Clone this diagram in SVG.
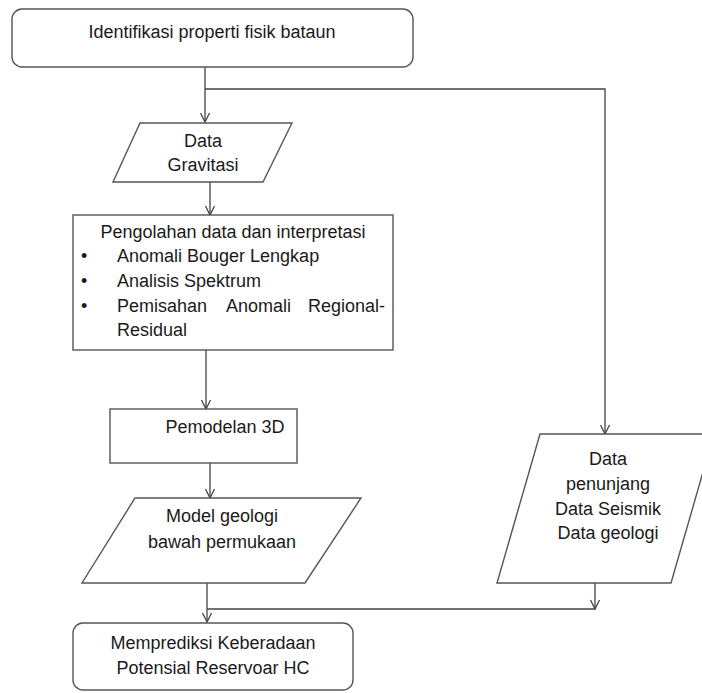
<svg xmlns="http://www.w3.org/2000/svg" width="702" height="693" viewBox="0 0 702 693">
<style>
.n{fill:#fff;stroke:#555;stroke-width:1.4}
.c{fill:none;stroke:#444;stroke-width:1.3}
text{font-family:"Liberation Sans",Arial,sans-serif;font-size:18px;fill:#1a1a1a}
.m{text-anchor:middle}
</style>
<defs>
<marker id="a" markerUnits="userSpaceOnUse" markerWidth="12" markerHeight="12" viewBox="0 0 12 12" refX="10" refY="6" orient="auto">
<path d="M1,1.5 L10,6 L1,10.5" fill="none" stroke="#444" stroke-width="1.3"/>
</marker>
</defs>
<g id="connectors">
<path class="c" d="M205,67 V122" marker-end="url(#a)"/>
<path class="c" d="M205,89 H605 V434" marker-end="url(#a)"/>
<path class="c" d="M210,182 V215" marker-end="url(#a)"/>
<path class="c" d="M206,350 V409" marker-end="url(#a)"/>
<path class="c" d="M210,463 V498" marker-end="url(#a)"/>
<path class="c" d="M207,583 V622" marker-end="url(#a)"/>
<path class="c" d="M207,609 H595"/>
<path class="c" d="M595,583 V609" marker-end="url(#a)"/>
</g>
<g id="n1">
<rect class="n" x="12" y="9" width="401" height="58" rx="10"/>
<text class="m" x="212" y="38">Identifikasi properti fisik bataun</text>
</g>
<g id="n2">
<polygon class="n" points="140,123 292,123 263,182 113,182"/>
<text class="m" x="203" y="147">Data</text>
<text class="m" x="203" y="171">Gravitasi</text>
</g>
<g id="n3">
<rect class="n" x="73" y="215" width="320" height="135"/>
<text class="m" x="233" y="238">Pengolahan data dan interpretasi</text>
<text x="81" y="262">•</text><text x="117" y="262">Anomali Bouger Lengkap</text>
<text x="81" y="287">•</text><text x="117" y="287">Analisis Spektrum</text>
<text x="81" y="312">•</text><text x="117" y="312">Pemisahan</text><text x="226" y="312">Anomali</text><text x="385" y="312" text-anchor="end">Regional-</text>
<text x="117" y="336">Residual</text>
</g>
<g id="n4">
<rect class="n" x="110" y="409" width="187" height="54"/>
<text class="m" x="225" y="433">Pemodelan 3D</text>
</g>
<g id="n5">
<polygon class="n" points="135,498 361,498 305,583 82,583"/>
<text class="m" x="222" y="522">Model geologi</text>
<text class="m" x="222" y="548">bawah permukaan</text>
</g>
<g id="n6">
<polygon class="n" points="540,434 714,434 671,583 497,583"/>
<text class="m" x="608" y="465">Data</text>
<text class="m" x="608" y="490">penunjang</text>
<text class="m" x="608" y="515">Data Seismik</text>
<text class="m" x="608" y="539">Data geologi</text>
</g>
<g id="n7">
<rect class="n" x="73" y="623" width="280" height="67" rx="10"/>
<text class="m" x="213" y="649">Memprediksi Keberadaan</text>
<text class="m" x="213" y="674">Potensial Reservoar HC</text>
</g>
</svg>
